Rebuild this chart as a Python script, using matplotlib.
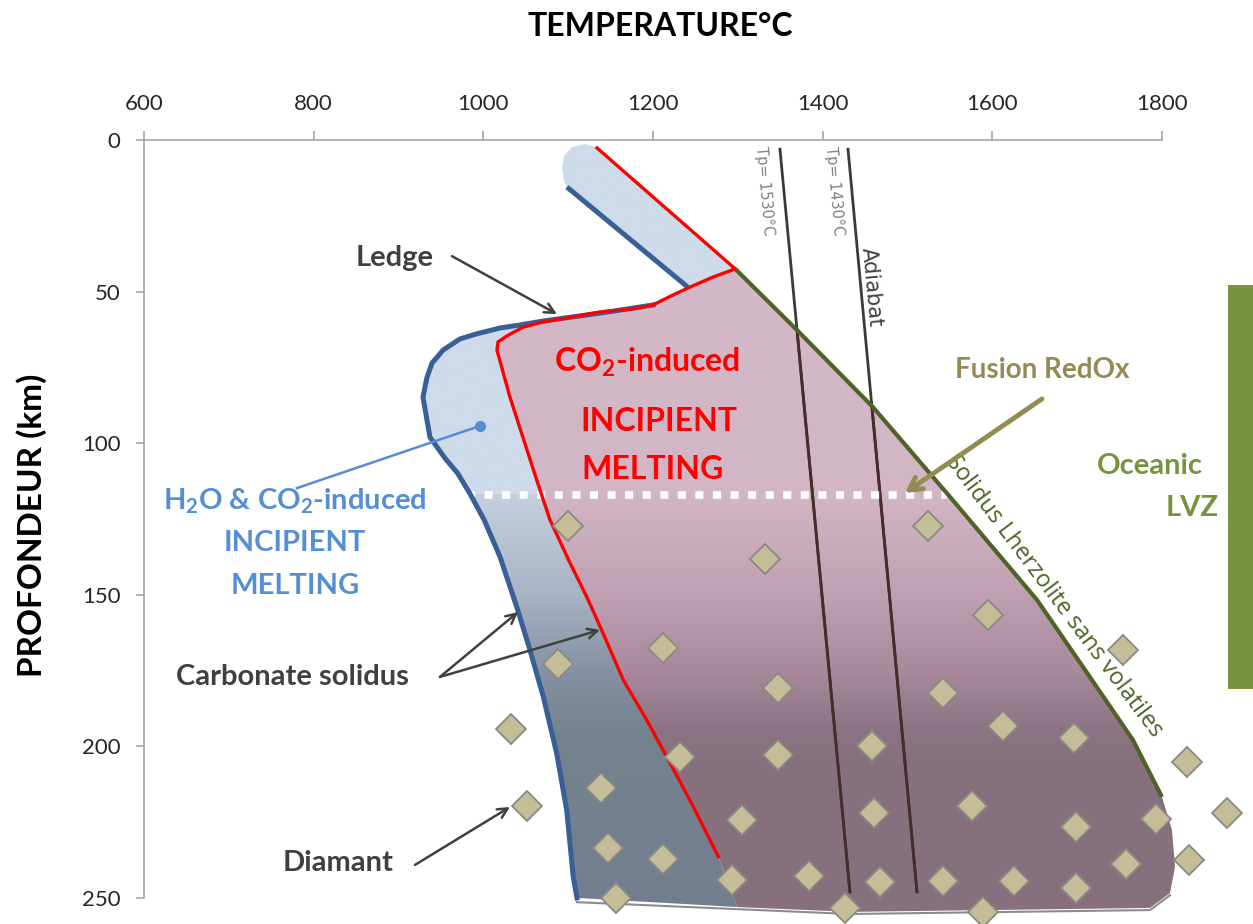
import numpy as np
import matplotlib
matplotlib.use("Agg")
import matplotlib.pyplot as plt
from matplotlib.patches import Polygon, Rectangle
from matplotlib.colors import to_rgb

plt.rcParams['font.family'] = ['Lato', 'DejaVu Sans']
plt.rcParams['mathtext.fontset'] = 'custom'
plt.rcParams['mathtext.rm'] = 'Lato:bold'
plt.rcParams['mathtext.it'] = 'Lato:bold'
plt.rcParams['mathtext.bf'] = 'Lato:bold'

# ---- data: temperature (°C) / depth (km) ----
temp_ticks = [600, 800, 1000, 1200, 1400, 1600, 1800]
depth_ticks = [0, 50, 100, 150, 200, 250]

# rounded top of the shallow tongue
cap_T = [1134.0, 1120.0, 1104.5, 1095.0, 1092.7, 1095.0, 1098.6]
cap_D = [2.6, 1.3, 2.3, 5.3, 9.2, 13.2, 15.5]
# blue carbonate solidus (H2O + CO2), shallow segment
tongue_T = [1098.6, 1241.0]
tongue_D = [15.5, 48.5]
# blue carbonate solidus, ledge and deep part
blue_T = [1200.0, 1137.5, 1070.3, 1043.2, 1019.6, 992.5, 972.5, 952.5, 939.5, 933.6,
          928.9, 937.1, 955.0, 970.0, 984.0, 1001.0, 1019.6, 1039.3, 1055.0, 1070.7,
          1086.5, 1098.3, 1106.0, 1110.4]
blue_D = [54.4, 57.1, 59.7, 61.0, 62.0, 63.9, 65.6, 69.3, 73.6, 78.3,
          84.8, 98.0, 105.0, 110.0, 116.5, 125.3, 137.4, 153.9, 168.2, 183.6,
          202.3, 221.0, 243.0, 250.0]
# red CO2 solidus
red_T = [1134.0, 1297.0, 1270.7, 1243.6, 1223.6, 1200.0, 1176.4, 1137.5, 1098.6,
         1070.3, 1046.8, 1027.9, 1017.3, 1016.1, 1031.4, 1051.5, 1062.9, 1078.6,
         1102.2, 1121.8, 1139.5, 1165.0, 1192.6, 1216.1, 1247.5, 1277.0]
red_D = [2.6, 42.5, 45.2, 48.5, 51.1, 54.4, 55.7, 56.7, 58.7,
         60.0, 61.7, 64.6, 66.6, 69.3, 84.8, 102.2, 112.1, 125.3,
         139.5, 150.6, 161.6, 178.1, 191.3, 203.4, 219.9, 236.4]
# lower edge of the melting field
bottom_T = [1110.4, 1299.0, 1432.2, 1785.9, 1809.5, 1815.4, 1811.8, 1800.0]
bottom_D = [250.7, 253.0, 254.6, 253.3, 248.4, 239.8, 227.6, 216.7]
# solidus lherzolite sans volatiles
sol_T = [1297.0, 1369.8, 1459.3, 1550.1, 1652.7, 1706.9, 1765.8, 1800.0]
sol_D = [42.5, 62.7, 88.1, 117.7, 151.7, 173.8, 197.9, 216.7]
# adiabats
adiab_1530_T = [1349.7, 1432.2]
adiab_1430_T = [1429.9, 1511.2]
adiab_D = [3.0, 248.0]
# redox melting depth
redox_T = [980.7, 1546.6]
redox_D = [117.0, 117.0]
# oceanic LVZ depth range
lvz_top, lvz_bottom = 47.8, 181.1
# diamonds
dia_T = [1100, 1332, 1524, 1212, 1088, 1595, 1754, 1347, 1542, 1033, 1232, 1347, 1458,
         1613, 1696, 1830, 1139, 1052, 1305, 1461, 1576, 1699, 1793, 1877, 1147, 1212,
         1293, 1384, 1468, 1542, 1626, 1699, 1758, 1832, 1156, 1426, 1589]
dia_D = [127.3, 138.2, 127.3, 167.5, 172.8, 156.7, 168.2, 180.7, 182.4, 194.3, 203.5,
         202.8, 199.9, 193.3, 197.2, 205.1, 213.7, 219.7, 224.3, 222.0, 219.7, 226.6,
         224.0, 222.0, 233.5, 237.1, 244.1, 242.7, 244.7, 244.4, 244.4, 246.7, 238.8,
         237.5, 250.0, 253.3, 254.6]

# colour ramps with depth
pink_stops = [0, 117, 150, 175, 195, 205, 260]
pink_cols = ['#d5bac9', '#d2b6c5', '#c0a0b2', '#a88a9c', '#8c7383', '#86707e', '#87707f']
blue_stops = [0, 116.9, 117, 150, 175, 195, 260]
blue_cols = ['#cddbea', '#cddbea', '#c6cfde', '#a8b4c6', '#8592a4', '#75828f', '#717e8e']


def ramp(stops, cols, n=500):
    d = np.linspace(-50, 260, n)
    rgb = np.array([to_rgb(c) for c in cols])
    img = np.stack([np.interp(d, stops, rgb[:, k]) for k in range(3)], axis=-1)
    return img[:, None, :]


fig = plt.figure(figsize=(12.53, 9.24), dpi=100)
ax = fig.add_axes([0, 0, 1, 1])
ax.set_facecolor('white')
xlim = (430.3, 1907.3)
ylim = (258.6, -46.2)

# regions
blue_poly = list(zip(cap_T + tongue_T + blue_T + bottom_T[1:2] + red_T[::-1],
                     cap_D + tongue_D + blue_D + bottom_D[1:2] + red_D[::-1]))
pink_poly = list(zip(sol_T + bottom_T[1:][::-1] + red_T[1:][::-1],
                     sol_D + bottom_D[1:][::-1] + red_D[1:][::-1]))

blue_patch = Polygon(blue_poly, closed=True, facecolor='none', edgecolor='none')
pink_patch = Polygon(pink_poly, closed=True, facecolor='none', edgecolor='none')
ax.add_patch(blue_patch)
ax.add_patch(pink_patch)
ext = (xlim[0], xlim[1], 260, -50)
im1 = ax.imshow(ramp(blue_stops, blue_cols), extent=ext, origin='upper', aspect='auto', zorder=1)
im1.set_clip_path(blue_patch)
im2 = ax.imshow(ramp(pink_stops, pink_cols), extent=ext, origin='upper', aspect='auto', zorder=1.1)
im2.set_clip_path(pink_patch)

# faint shadow under the lower edge
ax.plot(bottom_T[:5], [d + 0.7 for d in bottom_D[:5]], color='#8c8c8c', lw=1.5, zorder=0.9)

# adiabats
for xs in (adiab_1530_T, adiab_1430_T):
    ax.plot(xs, adiab_D, color='#3a3a3a', lw=2, zorder=2)
    ln, = ax.plot(xs, adiab_D, color='#4a2b2b', lw=2, zorder=2.1)
    ln.set_clip_path(pink_patch)

# redox depth
ax.plot(redox_T, redox_D, color='white', lw=5.5, dashes=(1.05, 1.25), zorder=3)

# solidus curves
ax.plot(sol_T, sol_D, color='#4f6228', lw=3, zorder=4, solid_capstyle='butt')
ax.plot(tongue_T, tongue_D, color='#386096', lw=3.6, zorder=4, solid_capstyle='butt')
ax.plot(blue_T, blue_D, color='#386096', lw=3.6, zorder=4, solid_joinstyle='round')
ax.plot(red_T, red_D, color='#ff0000', lw=2.4, zorder=4.5, solid_joinstyle='round')

# diamonds
ax.plot(dia_T, dia_D, 'D', ms=15.5, mfc='#c4bd97', mec='#8a8a82', mew=1.3, zorder=5,
        clip_on=False)

# oceanic LVZ bar
ax.add_patch(Rectangle((1877.8, lvz_top), 40, lvz_bottom - lvz_top, facecolor='#77933c',
                       edgecolor='none', zorder=2, clip_on=False))

# axes
ax.set_xlim(*xlim)
ax.set_ylim(*ylim)
ax.set_xticks(temp_ticks)
ax.set_yticks(depth_ticks)
ax.xaxis.tick_top()
for s in ('right', 'bottom'):
    ax.spines[s].set_visible(False)
ax.spines['top'].set_position(('data', 0))
ax.spines['left'].set_position(('data', 600))
ax.spines['top'].set_bounds(600, 1800)
ax.spines['left'].set_bounds(0, 250)
for s in ('top', 'left'):
    ax.spines[s].set_color('#a6a6a6')
    ax.spines[s].set_linewidth(1.2)
ax.tick_params(axis='x', direction='out', length=6.5, width=1.2, color='#a6a6a6', pad=12,
               labelsize=16, labelcolor='#262626')
ax.tick_params(axis='y', direction='out', length=6, width=1.2, color='#a6a6a6', pad=11,
               labelsize=16, labelcolor='#262626')

ax.text(1208.3, -37.3, 'TEMPERATURE°C', ha='center', va='center', fontsize=23,
        fontweight='bold', color='black')
ax.text(468, 127, 'PROFONDEUR (km)', ha='center', va='center', rotation=90, fontsize=24,
        fontweight='bold', color='black')

# labels
dark = '#404040'
arrow_kw = dict(arrowstyle='->,head_length=0.7,head_width=0.35', color=dark, lw=1.8,
                shrinkA=0, shrinkB=0)
ax.text(895.9, 38.9, 'Ledge', ha='center', va='center', fontsize=21, fontweight='bold', color=dark)
ax.annotate('', xy=(1086.8, 57.4), xytext=(963.1, 38.3), arrowprops=arrow_kw, zorder=6)
ax.text(775.6, 177.1, 'Carbonate solidus', ha='center', va='center', fontsize=21,
        fontweight='bold', color=dark)
ax.annotate('', xy=(1040.9, 155.7), xytext=(948.9, 177.1), arrowprops=arrow_kw, zorder=6)
ax.annotate('', xy=(1137.5, 161.6), xytext=(948.9, 177.1), arrowprops=arrow_kw, zorder=6)
ax.text(828.7, 238.5, 'Diamant', ha='center', va='center', fontsize=21, fontweight='bold', color=dark)
ax.annotate('', xy=(1031.4, 220.0), xytext=(919.5, 239.1), arrowprops=arrow_kw, zorder=6)

blue_txt = '#558ed5'
ax.text(778, 119.1, r'H$_2$O & CO$_2$-induced', ha='center', va='center', fontsize=21,
        fontweight='bold', color=blue_txt)
ax.text(778, 132.9, 'INCIPIENT', ha='center', va='center', fontsize=21, fontweight='bold', color=blue_txt)
ax.text(778, 147.1, 'MELTING', ha='center', va='center', fontsize=21, fontweight='bold', color=blue_txt)
ax.plot([780.4, 996.1], [114.8, 94.3], color=blue_txt, lw=1.8, zorder=6)
ax.plot([996.1], [94.3], 'o', ms=7, color=blue_txt, zorder=6)

ax.text(1193, 73.2, r'CO$_2$-induced', ha='center', va='center', fontsize=23,
        fontweight='bold', color='#ff0000', zorder=6)
ax.text(1207, 92.7, 'INCIPIENT', ha='center', va='center', fontsize=23, fontweight='bold',
        color='#ff0000', zorder=6)
ax.text(1199, 108.8, 'MELTING', ha='center', va='center', fontsize=23, fontweight='bold',
        color='#ff0000', zorder=6)

ax.text(1658.5, 75.9, 'Fusion RedOx', ha='center', va='center', fontsize=20,
        fontweight='bold', color='#948a54')
ax.annotate('', xy=(1497, 116.4), xytext=(1658.5, 85.4),
            arrowprops=dict(arrowstyle='->,head_length=0.9,head_width=0.5', color='#948a54',
                            lw=3.5, shrinkA=0, shrinkB=0), zorder=6)

ax.text(1785.9, 107.5, 'Oceanic', ha='center', va='center', fontsize=21, fontweight='bold',
        color='#77933c')
ax.text(1835.4, 121.4, 'LVZ', ha='center', va='center', fontsize=21, fontweight='bold',
        color='#77933c')

ax.text(1330.9, 16.8, 'Tp= 1530°C', ha='center', va='center', rotation=-85, fontsize=10.5,
        color='#808080', family='DejaVu Sans')
ax.text(1413.4, 16.8, 'Tp= 1430°C', ha='center', va='center', rotation=-85, fontsize=10.5,
        color='#808080', family='DejaVu Sans')
ax.text(1457, 48.5, 'Adiabat', ha='center', va='center', rotation=-84.7, fontsize=15,
        color=dark, family='DejaVu Sans')
ax.text(1672, 150.5, 'Solidus Lherzolite sans volatiles', ha='center', va='center',
        rotation=-53.1, rotation_mode='anchor', fontsize=17, color='#4f6228',
        family='Open Sans')

fig.savefig('out.png', dpi=100)
